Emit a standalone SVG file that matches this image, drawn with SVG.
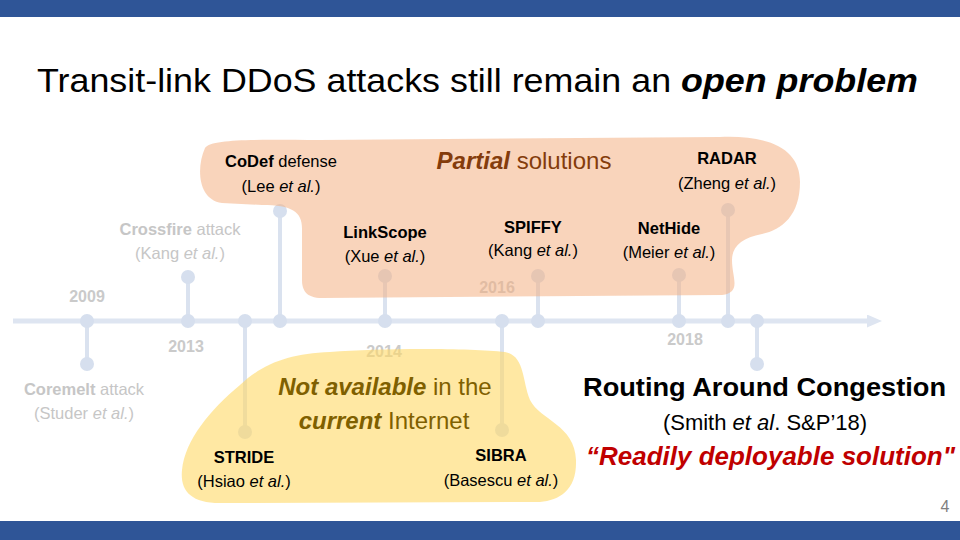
<svg xmlns="http://www.w3.org/2000/svg" width="960" height="540" viewBox="0 0 960 540">
  <defs>
    <style>
      text { font-family: "Liberation Sans", Arial, sans-serif; }
      .bar { fill: #2F5597; }
      .axis { stroke: #DEE5F1; stroke-width: 5; fill: none; }
      .stem { stroke: #DAE2EF; stroke-width: 4; fill: none; }
      .dot { fill: #D6DFEE; }
      .year { font-size: 16px; font-weight: bold; fill: #CACACA; text-anchor: middle; }
      .lbl { font-size: 16.5px; fill: #000; text-anchor: middle; }
      .faded { fill: #C6C6C6; }
      .b { font-weight: bold; }
      .i { font-style: italic; }
      .bi { font-weight: bold; font-style: italic; }
      .peach { fill: #F4B183; opacity: 0.55; }
      .yellow { fill: #FFD966; opacity: 0.6; }
    </style>
    <marker id="arrow" markerWidth="3" markerHeight="2.6" refX="0" refY="1.3" orient="auto" markerUnits="strokeWidth">
      <path d="M0,0 L3,1.3 L0,2.6 Z" fill="#DEE5F1"/>
    </marker>
  </defs>

  <rect class="bar" x="0" y="0" width="960" height="17"/>
  <rect class="bar" x="0" y="521" width="960" height="19"/>

  <text id="title" x="37" y="92" font-size="34" textLength="881" lengthAdjust="spacingAndGlyphs" fill="#000">Transit-link DDoS attacks still remain an <tspan class="bi">open problem</tspan></text>

  <g id="connectors">
    <line class="axis" x1="13" y1="321" x2="867" y2="321" marker-end="url(#arrow)"/>
    <line class="stem" x1="87" y1="321" x2="87" y2="364"/>
    <line class="stem" x1="188" y1="321" x2="188" y2="277"/>
    <line class="stem" x1="245" y1="321" x2="245" y2="432"/>
    <line class="stem" x1="280" y1="321" x2="280" y2="211"/>
    <line class="stem" x1="385" y1="321" x2="385" y2="276"/>
    <line class="stem" x1="502" y1="321" x2="502" y2="430"/>
    <line class="stem" x1="538" y1="321" x2="538" y2="276"/>
    <line class="stem" x1="679" y1="321" x2="679" y2="275"/>
    <line class="stem" x1="728" y1="321" x2="728" y2="210"/>
    <line class="stem" x1="757" y1="321" x2="757" y2="364"/>
    <g class="dot">
      <circle cx="87" cy="321" r="7"/><circle cx="188" cy="321" r="7"/><circle cx="245" cy="321" r="7"/>
      <circle cx="280" cy="321" r="7"/><circle cx="385" cy="321" r="7"/><circle cx="502" cy="321" r="7"/>
      <circle cx="538" cy="321" r="7"/><circle cx="679" cy="321" r="7"/><circle cx="728" cy="321" r="7"/>
      <circle cx="757" cy="321" r="7"/>
      <circle cx="87" cy="364" r="7"/><circle cx="188" cy="277" r="7"/><circle cx="245" cy="432" r="7"/>
      <circle cx="280" cy="211" r="7"/><circle cx="385" cy="276" r="7"/><circle cx="502" cy="430" r="7"/>
      <circle cx="538" cy="276" r="7"/><circle cx="679" cy="275" r="7"/><circle cx="728" cy="210" r="7"/>
      <circle cx="757" cy="364" r="7"/>
    </g>
  </g>

  <g id="years">
    <text class="year" x="87" y="302">2009</text>
    <text class="year" x="186" y="352">2013</text>
    <text class="year" x="384" y="357">2014</text>
    <text class="year" x="497" y="293">2016</text>
    <text class="year" x="685" y="345">2018</text>
  </g>

  <path id="partial-blob" class="peach" d="M 205,148 C 212,138 260,140 320,140 L 720,137 C 772,135 800,150 800,182 C 800,215 782,230 762,234 C 742,238 732,246 732,260 C 732,278 742,292 722,295 L 322,298 C 306,298 302,290 302,280 L 302,228 C 302,212 292,205 262,205 L 222,203 C 198,200 196,168 205,148 Z"/>
  <path id="unavailable-blob" class="yellow" d="M 330,352 C 380,348 470,348 505,352 C 525,356 522,380 530,400 C 540,420 575,425 576,460 C 577,490 560,500 540,502 L 220,503 C 190,503 180,490 182,470 C 185,440 210,410 240,385 C 265,362 290,354 330,352 Z"/>

  <g id="partial-label">
    <text x="524" y="169" font-size="24" text-anchor="middle" fill="#843C0C"><tspan class="bi">Partial</tspan> solutions</text>
  </g>
  <g id="codef">
    <text class="lbl" x="281" y="167"><tspan class="b">CoDef</tspan> defense</text>
    <text class="lbl" x="281" y="192">(Lee <tspan class="i">et al.</tspan>)</text>
  </g>
  <g id="radar">
    <text class="lbl b" x="727" y="164">RADAR</text>
    <text class="lbl" x="727" y="189">(Zheng <tspan class="i">et al.</tspan>)</text>
  </g>
  <g id="crossfire">
    <text class="lbl faded" x="180" y="235"><tspan class="b">Crossfire</tspan> attack</text>
    <text class="lbl faded" x="180" y="259">(Kang <tspan class="i">et al.</tspan>)</text>
  </g>
  <g id="linkscope">
    <text class="lbl b" x="385" y="238">LinkScope</text>
    <text class="lbl" x="385" y="262">(Xue <tspan class="i">et al.</tspan>)</text>
  </g>
  <g id="spiffy">
    <text class="lbl b" x="533" y="233">SPIFFY</text>
    <text class="lbl" x="533" y="256">(Kang <tspan class="i">et al.</tspan>)</text>
  </g>
  <g id="nethide">
    <text class="lbl b" x="669" y="234">NetHide</text>
    <text class="lbl" x="669" y="258">(Meier <tspan class="i">et al.</tspan>)</text>
  </g>
  <g id="coremelt">
    <text class="lbl faded" x="84" y="395"><tspan class="b">Coremelt</tspan> attack</text>
    <text class="lbl faded" x="84" y="419">(Studer <tspan class="i">et al.</tspan>)</text>
  </g>
  <g id="unavailable-label">
    <text x="385" y="395" font-size="24" text-anchor="middle" fill="#7F6000"><tspan class="bi">Not available</tspan> in the</text>
    <text x="384" y="429" font-size="24" text-anchor="middle" fill="#7F6000"><tspan class="bi">current</tspan> Internet</text>
  </g>
  <g id="stride">
    <text class="lbl b" x="244" y="463">STRIDE</text>
    <text class="lbl" x="244" y="487">(Hsiao <tspan class="i">et al.</tspan>)</text>
  </g>
  <g id="sibra">
    <text class="lbl b" x="501" y="461">SIBRA</text>
    <text class="lbl" x="501" y="486">(Basescu <tspan class="i">et al.</tspan>)</text>
  </g>
  <g id="rac">
    <text x="583" y="396" font-size="26" font-weight="bold" fill="#000" textLength="363" lengthAdjust="spacingAndGlyphs">Routing Around Congestion</text>
    <text x="765" y="430" font-size="22" text-anchor="middle" fill="#000">(Smith <tspan class="i">et al</tspan>. S&amp;P’18)</text>
    <text x="586" y="465" font-size="25" font-weight="bold" font-style="italic" fill="#C00000" textLength="369" lengthAdjust="spacingAndGlyphs">“Readily deployable solution"</text>
  </g>

  <text id="page" x="945" y="512" font-size="16" text-anchor="middle" fill="#7F7F7F">4</text>
</svg>
